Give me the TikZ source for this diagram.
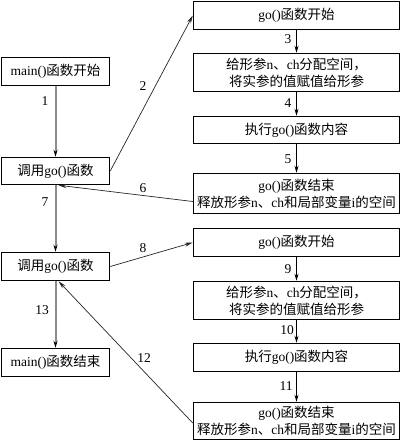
\documentclass[tikz,border=0pt]{standalone}
\usepackage{fontspec}
\setmainfont{Liberation Serif}
\newfontfamily\cjk{Noto Sans CJK SC}
\usetikzlibrary{arrows.meta,calc}
\newcommand{\C}[1]{{\cjk #1}}
\begin{document}
\begin{tikzpicture}[x=1pt,y=-1pt,
  box/.style={draw=black,line width=1.5pt,rectangle,inner sep=0pt,align=center,
    font=\fontsize{13.5}{17}\selectfont},
  lbox/.style={box,minimum width=108pt},
  rbox/.style={box,minimum width=206pt},
  grayarr/.style={draw=black!45,line width=2pt,-{Stealth[color=black,length=7pt,width=4pt]}},
  blkarr/.style={draw=black,line width=0.8pt,-{Stealth[length=7pt,width=4pt]}},
  diag/.style={draw=black!85,line width=0.7pt,-{Stealth[length=8pt,width=4pt]}},
  num/.style={font=\fontsize{13.5}{15}\selectfont,inner sep=0pt}]
\useasboundingbox (0,0) rectangle (401,442);
% left column
\node[lbox,minimum height=28pt] (m1) at (55.5,71.5) {main()\C{函数开始}};
\node[lbox,minimum height=27pt] (c1) at (55.5,171) {\C{调用}go()\C{函数}};
\node[lbox,minimum height=28pt] (c2) at (55.5,266.5) {\C{调用}go()\C{函数}};
\node[lbox,minimum height=28pt] (m2) at (55.5,362.5) {main()\C{函数结束}};
% right column
\node[rbox,minimum height=28pt] (b1) at (296.5,15.5) {go()\C{函数开始}};
\node[rbox,minimum height=38pt] (b2) at (296.5,72.5) {\C{给形参}n\C{、}ch\C{分配空间，}\\\C{将实参的值赋值给形参}};
\node[rbox,minimum height=27pt] (b3) at (296.5,130) {\C{执行}go()\C{函数内容}};
\node[rbox,minimum height=40pt] (b4) at (296.5,193.5) {go()\C{函数结束}\\\C{释放形参}n\C{、}ch\C{和局部变量}i\C{的空间}};
\node[rbox,minimum height=28pt] (b5) at (296.5,242.5) {go()\C{函数开始}};
\node[rbox,minimum height=38pt] (b6) at (296.5,300.5) {\C{给形参}n\C{、}ch\C{分配空间，}\\\C{将实参的值赋值给形参}};
\node[rbox,minimum height=28pt] (b7) at (296.5,357.5) {\C{执行}go()\C{函数内容}};
\node[rbox,minimum height=37pt] (b8) at (296.5,421) {go()\C{函数结束}\\\C{释放形参}n\C{、}ch\C{和局部变量}i\C{的空间}};
% coordinates for diagonal ends
\coordinate (t6) at ($(c1.south)+(3,0)$);
\coordinate (t12) at ($(c2.south)+(3,0)$);
\coordinate (s6) at ($(b4.west)+(0,8)$);
\coordinate (s12) at ($(b8.west)+(0,2)$);
% arrows
\draw[grayarr] (m1) -- (c1);
\draw[grayarr] (c1) -- (c2);
\draw[grayarr] (c2) -- (m2);
\draw[blkarr] (b1) -- (b2);
\draw[blkarr] (b2) -- (b3);
\draw[blkarr] (b3) -- (b4);
\draw[blkarr] (b5) -- (b6);
\draw[blkarr] (b6) -- (b7);
\draw[blkarr] (b7) -- (b8);
\draw[diag] (c1.east) -- (b1.west);
\draw[diag] (s6) -- (t6);
\draw[diag] (c2.east) -- (b5.west);
\draw[diag] (s12) -- (t12);
% labels
\node[num] (n1) at (45,101) {1};
\node[num] (n2) at (143,86) {2};
\node[num] (n3) at (288,39) {3};
\node[num] (n4) at (288,103) {4};
\node[num] (n5) at (288,159) {5};
\node[num] (n6) at (143,188) {6};
\node[num] (n7) at (45,202) {7};
\node[num] (n8) at (143,248) {8};
\node[num] (n9) at (288,269) {9};
\node[num] (n10) at (287,330) {10};
\node[num] (n11) at (286,386) {11};
\node[num] (n12) at (144,358) {12};
\node[num] (n13) at (42,310) {13};
\end{tikzpicture}
\end{document}
